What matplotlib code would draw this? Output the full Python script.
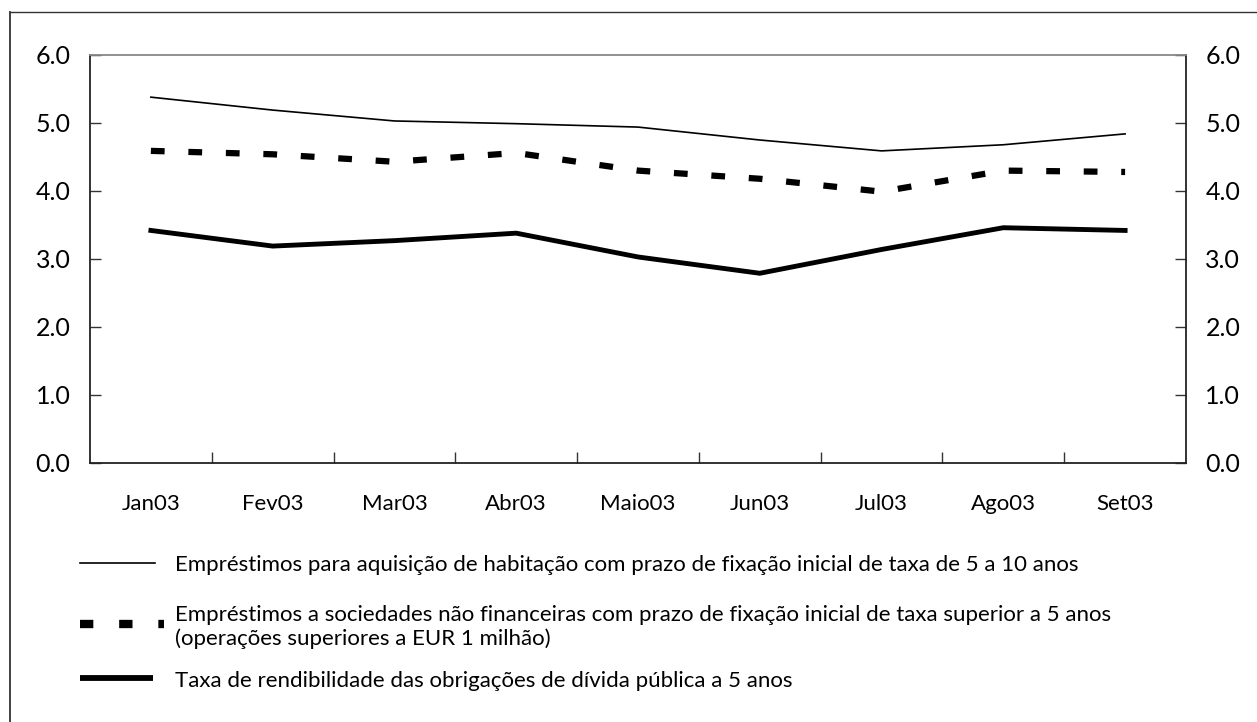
import matplotlib
matplotlib.use("Agg")
import matplotlib.pyplot as plt
from matplotlib.lines import Line2D
import numpy as np

months = ["Jan03", "Fev03", "Mar03", "Abr03", "Maio03", "Jun03", "Jul03", "Ago03", "Set03"]
habitacao = [5.38, 5.19, 5.03, 4.99, 4.94, 4.75, 4.59, 4.68, 4.84]
sociedades = [4.59, 4.54, 4.43, 4.56, 4.30, 4.18, 3.99, 4.30, 4.28]
divida = [3.42, 3.19, 3.27, 3.38, 3.03, 2.79, 3.14, 3.46, 3.42]
legend_labels = [
    "Empréstimos para aquisição de habitação com prazo de fixação inicial de taxa de 5 a 10 anos",
    "Empréstimos a sociedades não financeiras com prazo de fixação inicial de taxa superior a 5 anos\n(operações superiores a EUR 1 milhão)",
    "Taxa de rendibilidade das obrigações de dívida pública a 5 anos",
]
yticks = [0.0, 1.0, 2.0, 3.0, 4.0, 5.0, 6.0]

plt.rcParams['font.family'] = ['Lato', 'DejaVu Sans']

W, H = 1257, 722
fig = plt.figure(figsize=(W / 100, H / 100), dpi=100)

def fx(px):
    return px / W

def fy(py):
    return 1 - py / H

ax = fig.add_axes([fx(90), fy(463), fx(1186) - fx(90), fy(55) - fy(463)])
x = np.arange(len(months))

ax.plot(x, habitacao, color="black", lw=1.2, solid_joinstyle="miter")
ax.plot(x, sociedades, color="black", lw=4.5, dashes=(2.2, 3.8), dash_capstyle="butt")
ax.plot(x, divida, color="black", lw=3.5, solid_joinstyle="miter")

ax.set_xlim(-0.5, len(months) - 0.5)
ax.set_ylim(0, 6)
ax.set_yticks(yticks)
ax.set_yticklabels([f"{v:.1f}" for v in yticks])
ax.set_xticks(x)
ax.set_xticklabels(months, fontsize=16)
ax.set_xticks(np.arange(0.5, len(months) - 0.5, 1), minor=True)
ax.tick_params(axis="x", which="major", length=0, pad=22)
ax.tick_params(axis="x", which="minor", direction="in", length=8, width=1, color="#333333")
ax.tick_params(axis="y", direction="in", length=8, width=1, labelsize=18, pad=14,
               left=True, right=True, labelleft=True, labelright=True, color="#333333")
for s in ["left", "right", "bottom"]:
    ax.spines[s].set_color("#222222")
    ax.spines[s].set_linewidth(1.3)
ax.spines["top"].set_color("#888888")
ax.spines["top"].set_linewidth(1.3)

# outer border
fig.add_artist(Line2D([fx(10), fx(10)], [fy(12), 0], transform=fig.transFigure, color="#333333", lw=1.3))
fig.add_artist(Line2D([fx(10), 1], [fy(12), fy(12)], transform=fig.transFigure, color="#333333", lw=1.0))

# legend
fig.add_artist(Line2D([fx(80), fx(155)], [fy(563), fy(563)], transform=fig.transFigure, color="black", lw=1.2))
fig.add_artist(Line2D([fx(80), fx(164)], [fy(624), fy(624)], transform=fig.transFigure, color="black",
                      lw=6, dashes=(1.6, 3.1), dash_capstyle="butt"))
fig.add_artist(Line2D([fx(80), fx(153)], [fy(678), fy(678)], transform=fig.transFigure, color="black",
                      lw=4.2, solid_capstyle="butt"))
fig.text(fx(175), fy(565), legend_labels[0], fontsize=16, va="center", ha="left")
fig.text(fx(175), fy(627), legend_labels[1], fontsize=16, va="center", ha="left", linespacing=1.15)
fig.text(fx(175), fy(681), legend_labels[2], fontsize=16, va="center", ha="left")

fig.savefig("out.png", dpi=100)
